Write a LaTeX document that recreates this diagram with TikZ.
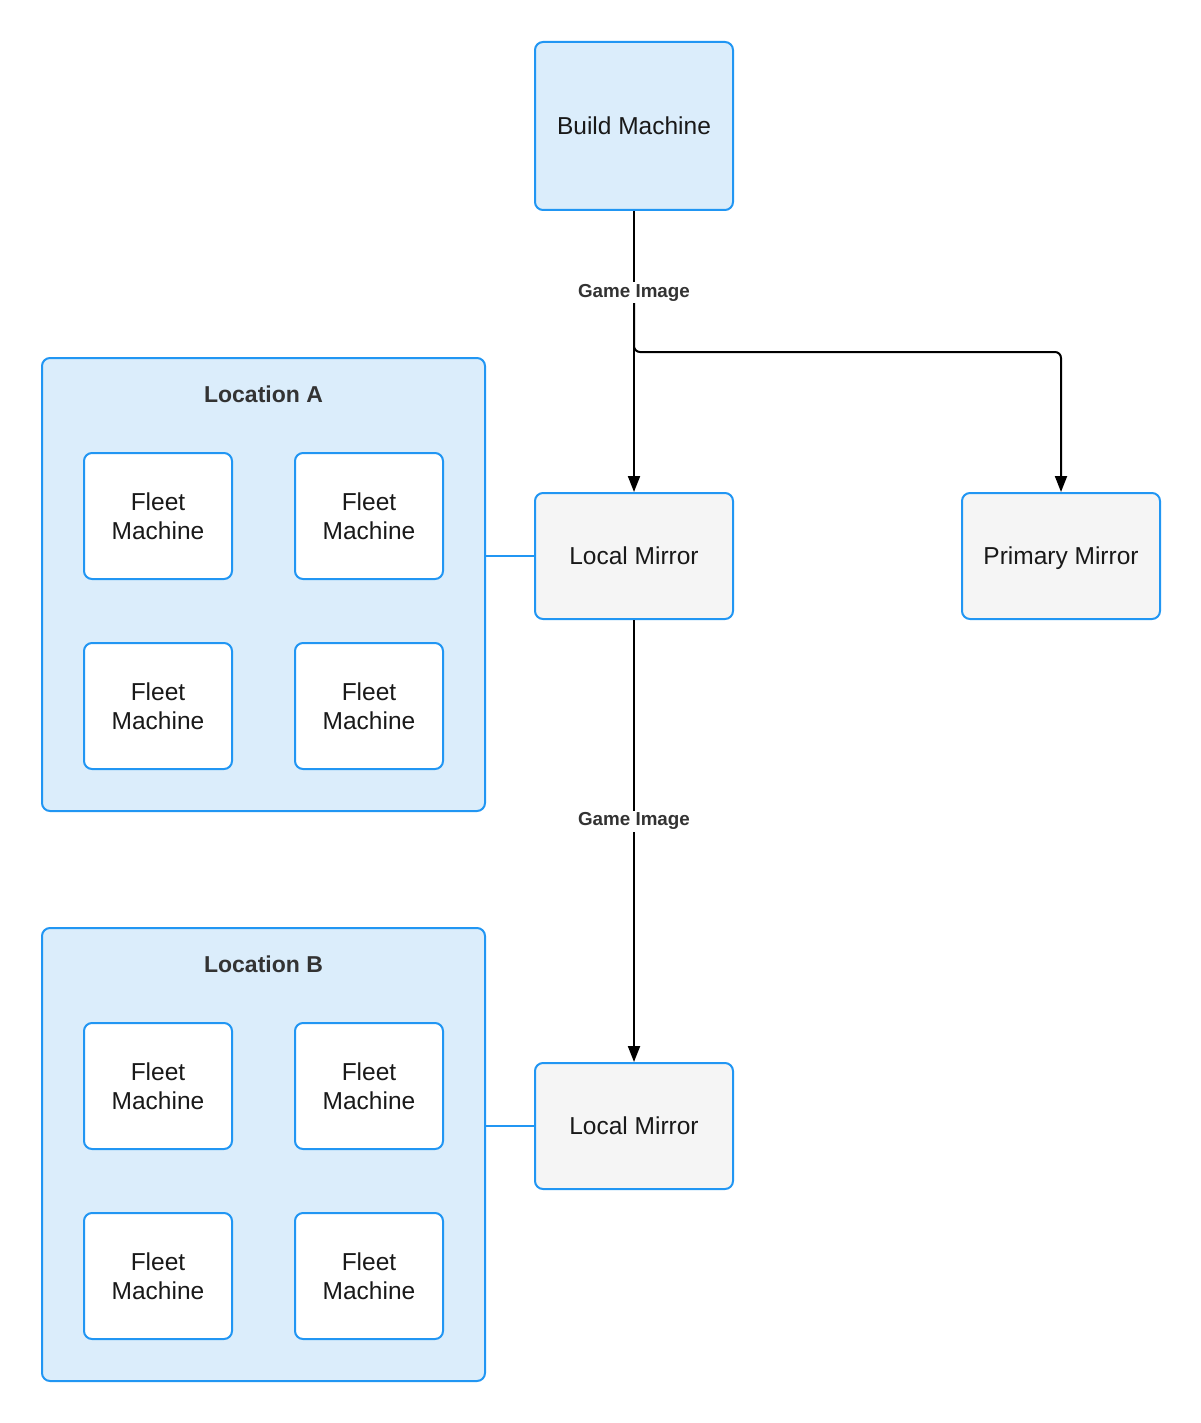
\documentclass[tikz,border=0pt]{standalone}
\usepackage{fontspec}
\setmainfont{Liberation Sans}
\usetikzlibrary{arrows.meta}
\definecolor{bblue}{HTML}{2196F3}
\definecolor{lblue}{HTML}{DBEDFB}
\definecolor{lgray}{HTML}{F5F5F5}
\definecolor{tdark}{HTML}{333333}
\begin{document}
\begin{tikzpicture}[x=1pt,y=-1pt,
  box/.style={draw=bblue,line width=2pt,rounded corners=8pt,inner sep=0pt,font=\fontsize{24.5}{29}\selectfont,align=center,text=black!90},
  tip/.style={-{Triangle[length=16pt,width=12pt]}},
  arr/.style={line width=2pt,tip},
  lbl/.style={fill=white,font=\bfseries\fontsize{18.8}{21}\selectfont,text=tdark,inner sep=2pt},
  ttl/.style={font=\bfseries\fontsize{23}{27}\selectfont,text=tdark}]
\useasboundingbox (0,0) rectangle (1200,1423);
% groups
\node[box,fill=lblue,minimum width=443pt,minimum height=453pt] (locA) at (263.5,584.5) {};
\node[ttl] (tA) at (263.5,394) {Location A};
\node[box,fill=lblue,minimum width=443pt,minimum height=453pt] (locB) at (263.5,1154.5) {};
\node[ttl] (tB) at (263.5,964) {Location B};
% fleet machines
\foreach \n/\x/\y in {a1/158/516,a2/369/516,a3/158/706,a4/369/706,b1/158/1086,b2/369/1086,b3/158/1276,b4/369/1276}{
  \node[box,fill=white,minimum width=148pt,minimum height=126pt] (\n) at (\x,\y) {Fleet\\Machine};
}
% main nodes
\node[box,fill=lblue,minimum width=198pt,minimum height=168pt] (build) at (634,126) {Build Machine};
\node[box,fill=lgray,minimum width=198pt,minimum height=126pt] (lmA) at (634,556) {Local Mirror};
\node[box,fill=lgray,minimum width=198pt,minimum height=126pt,text depth=0pt] (pm) at (1061,556) {Primary Mirror};
\node[box,fill=lgray,minimum width=198pt,minimum height=126pt] (lmB) at (634,1126) {Local Mirror};
% connectors
\coordinate (split) at (634,300);
\draw[arr,rounded corners=6pt] (split) -- (634,352) -- (1061,352) -- (pm.north);
\draw[arr] (build.south) -- node[lbl,pos=0.29] (g1) {Game Image} (lmA.north);
\draw[arr] (lmA.south) -- node[lbl,pos=0.455] (g2) {Game Image} (lmB.north);
\draw[bblue,line width=2pt] (locA.east |- lmA.west) -- (lmA.west);
\draw[bblue,line width=2pt] (locB.east |- lmB.west) -- (lmB.west);
\end{tikzpicture}
\end{document}
